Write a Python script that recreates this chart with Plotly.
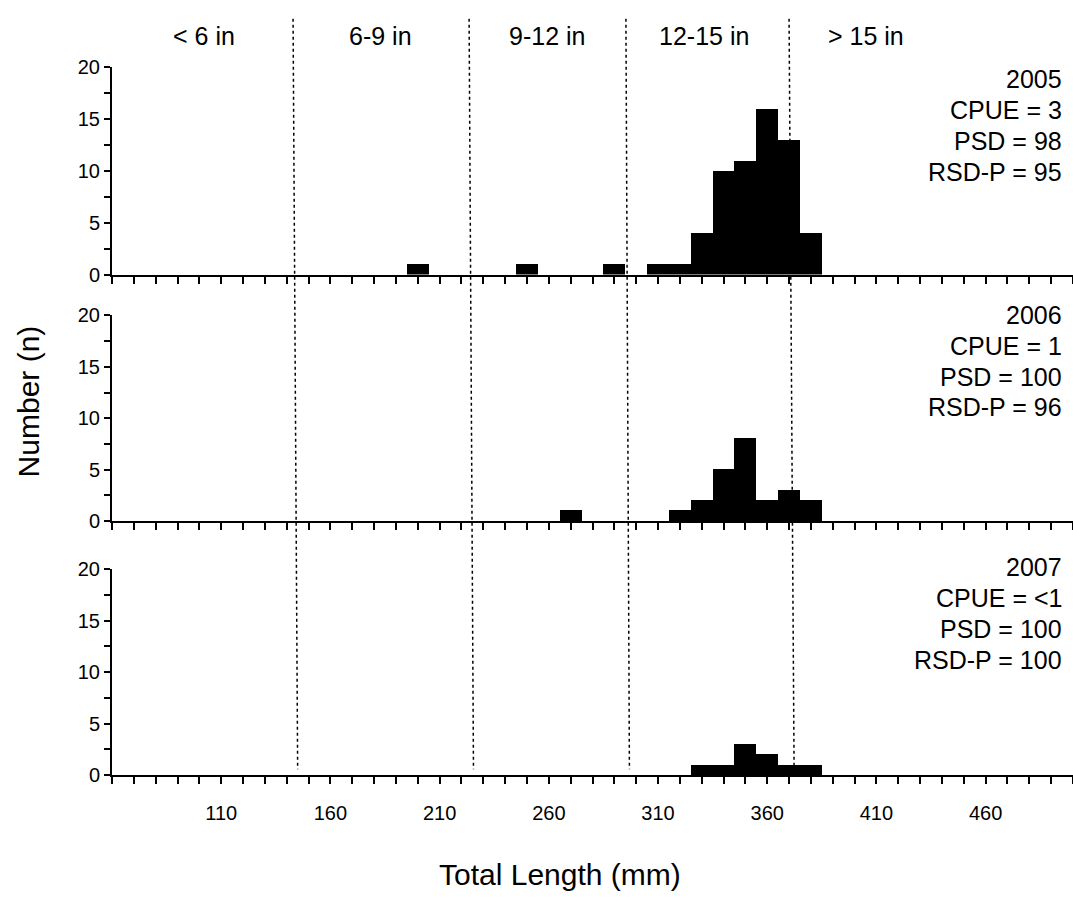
import plotly.graph_objects as go

# ---- data ----
bin_mm = [200, 250, 270, 290, 310, 320, 330, 340, 350, 360, 370, 380]
n_2005 = [1, 1, 0, 1, 1, 1, 4, 10, 11, 16, 13, 4]
n_2006 = [0, 0, 1, 0, 0, 1, 2, 5, 8, 2, 3, 2]
n_2007 = [0, 0, 0, 0, 0, 0, 1, 1, 3, 2, 1, 1]
years = ["2005", "2006", "2007"]
cpue = ["3", "1", "<1"]
psd = ["98", "100", "100"]
rsdp = ["95", "96", "100"]
class_labels = ["< 6 in", "6-9 in", "9-12 in", "12-15 in", "> 15 in"]
class_label_x = [102, 183, 259, 331, 405]
x_tickvals = [110, 160, 210, 260, 310, 360, 410, 460]
# dotted class boundaries (top x, bottom x) in mm
bound_top = [142.9, 223.5, 295.3, 370.0]
bound_bot = [145.0, 225.5, 296.9, 372.3]

W, H = 1073, 915
FONT = "Liberation Sans, Arial, sans-serif"

def py(pix):
    return 1 - pix / H

def px(pix):
    return pix / W

panels = [(57, 270), (312, 522.7), (572, 783)]
series = [n_2005, n_2006, n_2007]

fig = go.Figure()
for i, counts in enumerate(series):
    fig.add_trace(go.Bar(
        x=bin_mm, y=counts, width=10,
        marker=dict(color="black", line=dict(width=0)),
        xaxis="x" if i == 0 else f"x{i+1}",
        yaxis="y" if i == 0 else f"y{i+1}",
        showlegend=False,
    ))

layout = dict(
    width=W, height=H,
    margin=dict(l=0, r=0, t=0, b=0),
    paper_bgcolor="white", plot_bgcolor="white",
    font=dict(family=FONT, size=20, color="black"),
    bargap=0,
)

for i, (top, bot) in enumerate(panels):
    xa = "xaxis" if i == 0 else f"xaxis{i+1}"
    ya = "yaxis" if i == 0 else f"yaxis{i+1}"
    yname = "y" if i == 0 else f"y{i+1}"
    xname = "x" if i == 0 else f"x{i+1}"
    layout[xa] = dict(
        domain=[px(112), 1], range=[60, 500], anchor=yname,
        showline=True, linecolor="black", linewidth=2,
        ticks="outside", ticklen=7, tickwidth=2, tickcolor="black",
        tickmode="array", tickvals=x_tickvals,
        ticktext=[str(v) for v in x_tickvals],
        showgrid=False, zeroline=False,
        showticklabels=(i == 2), ticklabelstandoff=12,
        tickfont=dict(size=20),
        minor=dict(ticks="outside", ticklen=7, tickwidth=2, tickcolor="black",
                   tickmode="linear", tick0=60, dtick=10, showgrid=False),
    )
    if i > 0:
        layout[xa]["matches"] = "x"
    layout[ya] = dict(
        domain=[py(bot), py(top)], range=[0, 20], anchor=xname,
        showline=True, linecolor="black", linewidth=2,
        ticks="outside", ticklen=6, tickwidth=2, tickcolor="black",
        tick0=0, dtick=5, showgrid=False, zeroline=False,
        tickfont=dict(size=20),
        minor=dict(ticks="outside", ticklen=6, tickwidth=2, tickcolor="black",
                   dtick=2.5, showgrid=False),
    )

fig.update_layout(**layout)

ann = []
# stats text per panel
for i, (top, bot) in enumerate(panels):
    base = [70, 311.7, 570][i]
    lines = [years[i], f"CPUE = {cpue[i]}", f"PSD = {psd[i]}", f"RSD-P = {rsdp[i]}"]
    for k, t in enumerate(lines):
        ann.append(dict(text=t, xref="paper", yref="paper", x=px(1064),
                        y=py(base + k * 31.5), xanchor="right", yanchor="middle",
                        showarrow=False, font=dict(size=25)))
# class labels across top
for lab, xm in zip(class_labels, class_label_x):
    ann.append(dict(text=lab, xref="x", yref="paper", x=xm, y=py(26),
                    xanchor="center", yanchor="middle", showarrow=False,
                    font=dict(size=25)))
# axis titles
ann.append(dict(text="Number (n)", xref="paper", yref="paper", x=px(28), y=py(400),
                xanchor="center", yanchor="middle", textangle=-90,
                showarrow=False, font=dict(size=30)))
ann.append(dict(text="Total Length (mm)", xref="paper", yref="paper", x=px(560),
                y=py(885), xanchor="center", yanchor="middle",
                showarrow=False, font=dict(size=30)))

shapes = []
for xt, xb in zip(bound_top, bound_bot):
    shapes.append(dict(type="line", xref="x", yref="paper", x0=xt, y0=py(8),
                       x1=xb, y1=py(777), line=dict(color="black", width=1.5, dash="dot")))

fig.update_layout(annotations=ann, shapes=shapes)
fig.write_html("out.html")
